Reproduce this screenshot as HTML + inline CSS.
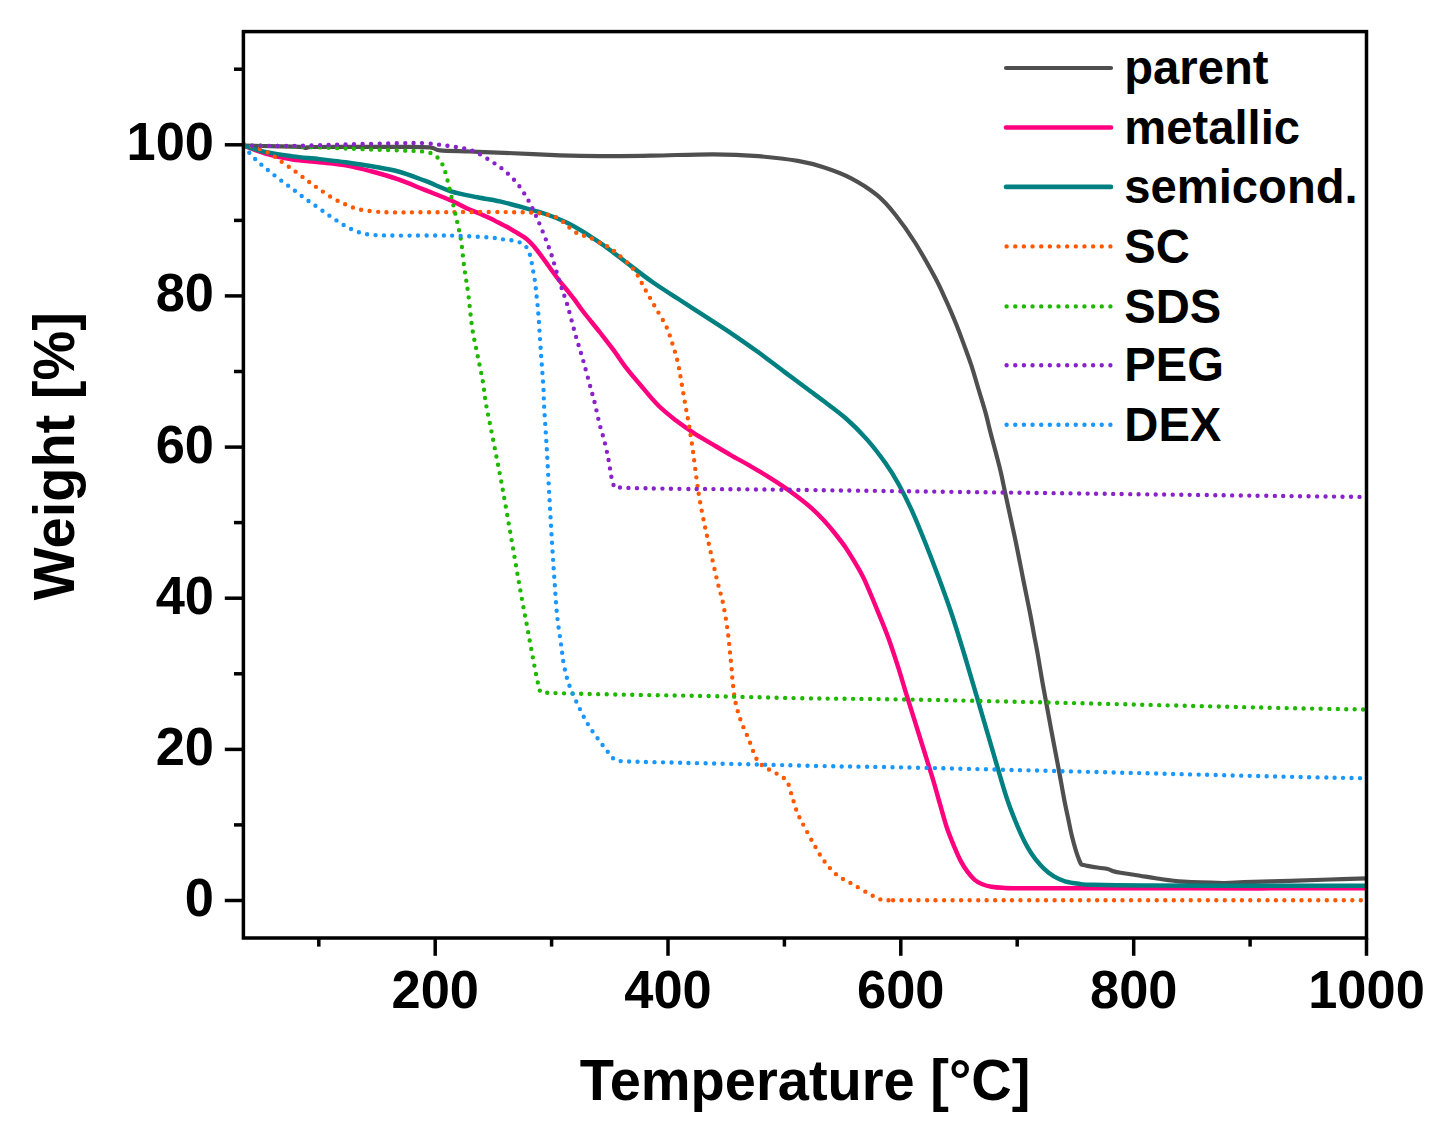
<!DOCTYPE html>
<html lang="en"><head><meta charset="utf-8"><title>TGA curves</title>
<style>html,body{margin:0;padding:0;background:#fff}body{width:1440px;height:1145px;overflow:hidden}svg{display:block}</style>
</head><body>
<svg width="1440" height="1145" viewBox="0 0 1440 1145">
<rect width="1440" height="1145" fill="#fff"/>
<defs><clipPath id="cp"><rect x="243.4" y="31.6" width="1124.6" height="906.4"/></clipPath></defs>
<g clip-path="url(#cp)" fill="none" stroke-linejoin="round">
<path d="M243.6 145.6C248.0 145.7 260.6 146.0 270.0 146.2C279.4 146.4 294.0 146.5 300.0 146.8C306.0 147.1 304.0 148.0 306.0 148.0C308.0 148.0 303.0 147.2 312.0 147.0C321.0 146.8 345.3 146.9 360.0 146.9C374.7 146.9 388.3 146.7 400.0 146.8C411.7 146.9 423.3 146.7 430.0 147.3C436.7 147.9 433.3 149.7 440.0 150.4C446.7 151.1 459.3 151.1 470.0 151.5C480.7 151.9 489.0 152.2 504.0 152.8C519.0 153.4 544.0 154.7 560.0 155.3C576.0 155.9 584.5 156.1 600.0 156.2C615.5 156.2 633.9 155.9 652.8 155.6C671.7 155.3 695.9 154.2 713.5 154.3C731.1 154.4 744.3 155.1 758.4 156.2C772.5 157.3 786.9 159.0 797.9 160.9C808.9 162.8 815.5 164.6 824.3 167.5C833.1 170.4 841.9 173.5 850.7 178.1C859.5 182.7 869.6 189.0 877.1 195.2C884.6 201.3 889.3 207.1 895.6 215.0C901.9 222.9 908.5 232.2 915.0 242.5C921.5 252.8 929.6 267.4 934.8 277.0C940.0 286.6 942.5 292.8 946.0 300.4C949.5 308.0 952.6 315.4 955.5 322.5C958.4 329.6 960.7 335.8 963.3 342.9C965.9 350.0 968.7 357.3 971.2 364.9C973.7 372.5 975.9 380.6 978.3 388.5C980.7 396.4 983.3 404.5 985.4 412.1C987.5 419.7 989.0 426.8 990.9 434.1C992.8 441.4 995.0 449.4 996.7 455.9C998.4 462.4 999.7 467.3 1001.0 473.0C1002.3 478.7 1003.4 484.5 1004.6 490.2C1005.8 495.9 1007.1 501.6 1008.3 507.3C1009.5 513.0 1010.8 518.7 1012.0 524.4C1013.2 530.1 1014.5 535.6 1015.7 541.5C1016.9 547.4 1018.2 553.9 1019.4 560.0C1020.6 566.1 1021.8 572.2 1023.0 578.3C1024.2 584.4 1025.5 590.6 1026.7 596.7C1027.9 602.8 1029.2 608.7 1030.4 615.0C1031.6 621.3 1032.8 628.1 1034.0 634.6C1035.2 641.1 1036.6 647.9 1037.7 654.2C1038.8 660.5 1039.8 666.6 1040.8 672.5C1041.8 678.4 1042.0 679.9 1043.8 689.7C1045.6 699.5 1048.9 717.3 1051.5 731.3C1054.1 745.3 1057.4 762.0 1059.5 773.5C1061.6 785.0 1062.9 792.8 1064.3 800.0C1065.7 807.2 1066.5 810.7 1067.8 816.7C1069.1 822.7 1070.5 830.3 1071.9 836.1C1073.3 841.9 1074.8 847.2 1076.1 851.4C1077.4 855.6 1078.7 858.9 1079.6 861.1C1080.5 863.3 1081.1 864.0 1081.4 864.6C1082.1 864.8 1083.9 865.1 1085.8 865.5C1087.7 865.9 1089.3 866.4 1092.8 866.9C1096.3 867.4 1103.2 868.1 1106.7 868.8C1110.2 869.5 1111.3 870.6 1113.6 871.3C1115.9 871.9 1116.2 872.0 1120.6 872.7C1125.0 873.4 1133.9 874.7 1140.0 875.7C1146.1 876.7 1149.8 877.5 1157.1 878.5C1164.3 879.5 1172.5 881.0 1183.5 881.7C1194.5 882.5 1213.0 882.9 1223.1 883.0C1233.2 883.1 1233.0 882.6 1244.2 882.2C1255.4 881.8 1275.7 881.2 1290.0 880.8C1304.3 880.3 1317.2 879.9 1330.0 879.5C1342.8 879.1 1360.4 878.5 1366.5 878.3" stroke="#4f4f4f" stroke-width="4.2"/>
<path d="M243.6 145.6C247.4 147.0 258.2 151.5 266.4 153.8C274.6 156.1 284.0 158.2 292.8 159.6C301.6 161.0 310.4 161.2 319.2 162.2C328.0 163.2 336.8 163.8 345.6 165.4C354.4 167.0 363.2 169.2 372.0 171.5C380.8 173.8 389.6 176.3 398.4 179.4C407.2 182.5 415.9 186.4 424.7 189.9C433.5 193.4 444.1 197.4 451.1 200.5C458.1 203.6 461.9 206.1 466.7 208.3C471.5 210.5 476.1 212.1 480.0 213.8C483.9 215.5 486.9 216.9 490.0 218.3C493.1 219.8 495.5 221.1 498.3 222.5C501.1 223.9 503.9 225.2 506.7 226.7C509.5 228.2 512.2 230.0 515.0 231.7C517.8 233.4 520.9 235.1 523.3 236.7C525.7 238.3 527.4 239.6 529.2 241.3C531.0 243.0 532.4 244.5 534.2 246.7C536.0 248.8 537.9 251.4 540.0 254.2C542.1 257.0 544.5 260.2 546.7 263.3C548.9 266.4 550.9 269.3 553.3 272.5C555.6 275.7 558.3 279.3 560.8 282.5C563.3 285.7 566.1 288.9 568.3 291.7C570.5 294.5 571.7 295.9 574.2 299.2C576.7 302.5 578.8 305.9 583.1 311.5C587.4 317.1 595.0 326.1 600.0 332.5C605.0 338.9 608.8 343.7 613.2 349.6C617.6 355.5 621.9 362.3 626.4 368.1C630.9 373.9 634.7 378.3 640.0 384.5C645.3 390.7 652.1 399.3 658.1 405.3C664.1 411.3 670.1 415.9 676.1 420.6C682.1 425.3 688.2 429.4 694.2 433.3C700.2 437.2 706.2 440.5 712.2 444.1C718.2 447.7 724.3 451.4 730.3 454.9C736.3 458.4 742.3 461.4 748.3 464.9C754.3 468.4 760.4 471.9 766.4 475.7C772.4 479.4 779.4 483.9 784.5 487.4C789.6 490.9 792.6 493.0 797.1 496.5C801.6 500.0 807.0 504.1 811.5 508.2C816.0 512.2 820.3 516.6 824.2 520.8C828.1 525.0 831.4 529.0 835.0 533.5C838.6 538.0 842.6 543.1 845.9 547.9C849.2 552.7 851.9 557.3 854.9 562.4C857.9 567.5 860.1 570.5 863.9 578.6C867.7 586.7 873.7 601.3 877.7 611.1C881.8 620.9 884.7 627.8 888.2 637.5C891.7 647.2 895.8 659.7 898.8 669.2C901.8 678.7 902.9 683.1 906.4 694.3C909.9 705.5 915.2 722.4 919.6 736.5C924.0 750.6 929.4 767.5 932.8 778.8C936.2 790.1 937.6 796.0 940.0 804.2C942.4 812.4 944.6 820.9 946.9 827.8C949.2 834.7 951.6 840.2 953.9 845.8C956.2 851.3 958.5 856.7 960.8 861.1C963.1 865.5 965.5 869.1 967.8 872.2C970.1 875.3 972.4 877.9 974.7 879.9C977.0 881.9 978.9 882.9 981.7 884.0C984.5 885.1 987.9 886.2 991.4 886.8C994.9 887.4 997.2 887.6 1002.5 887.8C1007.8 888.0 1000.4 888.1 1023.3 888.2C1046.2 888.3 1100.5 888.3 1140.0 888.3C1179.5 888.3 1222.2 888.4 1260.0 888.4C1297.8 888.4 1348.8 888.3 1366.5 888.3" stroke="#ff007f" stroke-width="4.45"/>
<path d="M243.6 145.6C247.4 146.7 258.2 150.4 266.4 152.2C274.6 154.0 284.0 155.2 292.8 156.4C301.6 157.6 310.4 158.1 319.2 159.1C328.0 160.1 336.8 161.0 345.6 162.2C354.4 163.4 363.2 164.6 372.0 166.2C380.8 167.8 389.6 169.1 398.4 171.5C407.2 173.9 415.9 177.4 424.7 180.7C433.5 184.0 442.3 188.5 451.1 191.3C459.9 194.1 468.7 195.5 477.5 197.3C486.3 199.1 495.1 200.2 503.9 202.3C512.7 204.4 522.9 207.5 530.3 209.6C537.7 211.7 542.5 213.0 548.3 215.0C554.1 217.0 559.4 219.1 565.0 221.7C570.6 224.3 576.2 227.5 581.7 230.8C587.2 234.1 593.6 238.5 598.3 241.7C603.0 244.9 605.3 246.5 610.0 250.0C614.7 253.5 619.3 257.1 626.4 262.5C633.5 267.9 644.0 276.1 652.8 282.3C661.6 288.5 670.4 293.8 679.2 299.5C688.0 305.2 696.8 310.9 705.6 316.6C714.4 322.3 723.2 327.9 732.0 333.8C740.8 339.8 749.6 345.9 758.4 352.3C767.2 358.7 775.9 365.5 784.7 372.1C793.5 378.7 804.9 387.2 811.1 391.8C817.4 396.4 816.4 395.6 822.2 400.0C828.0 404.4 838.5 411.9 846.0 418.5C853.5 425.1 860.5 432.1 867.1 439.6C873.7 447.1 880.3 455.8 885.6 463.3C890.9 470.8 894.4 476.6 898.8 484.5C903.2 492.4 907.6 501.1 912.0 510.8C916.4 520.5 920.8 531.5 925.2 542.5C929.6 553.5 934.0 564.9 938.4 576.8C942.8 588.7 947.2 600.6 951.6 613.8C956.0 627.0 960.4 641.7 964.8 656.0C969.1 670.3 973.2 684.4 977.7 699.6C982.2 714.8 987.6 733.5 991.6 747.1C995.6 760.7 999.0 772.6 1001.6 781.4C1004.2 790.2 1005.4 794.1 1007.4 800.0C1009.4 805.9 1011.4 811.2 1013.6 816.7C1015.8 822.2 1018.3 828.2 1020.6 833.3C1022.9 838.4 1025.0 842.8 1027.5 847.2C1030.0 851.6 1033.0 856.1 1035.8 859.7C1038.6 863.3 1041.2 866.0 1044.2 868.8C1047.2 871.6 1050.4 874.3 1053.9 876.4C1057.4 878.5 1060.8 880.1 1065.0 881.3C1069.2 882.5 1074.3 883.2 1078.9 883.8C1083.5 884.4 1082.0 884.5 1092.8 884.8C1103.6 885.1 1116.0 885.4 1143.9 885.5C1171.8 885.6 1222.9 885.7 1260.0 885.7C1297.1 885.7 1348.8 885.7 1366.5 885.7" stroke="#008080" stroke-width="4.45"/>
<path d="M243.6 143.8C247.4 145.1 260.0 148.6 266.4 151.7C272.8 154.8 277.4 158.9 282.2 162.2C287.0 165.5 291.0 168.3 295.4 171.5C299.8 174.7 304.6 178.6 308.6 181.5C312.6 184.4 315.2 186.4 319.2 189.1C323.2 191.8 328.0 195.3 332.4 197.9C336.8 200.5 341.2 202.6 345.6 204.5C350.0 206.4 353.5 208.0 358.8 209.2C364.1 210.4 370.6 211.3 377.2 211.8C383.8 212.3 386.1 212.4 398.4 212.4C410.7 212.4 433.5 212.2 451.1 212.1C468.7 212.0 490.5 212.0 503.9 212.1C517.3 212.2 525.7 212.3 531.7 212.5C537.7 212.7 537.4 213.0 540.0 213.3C542.6 213.7 545.1 214.1 547.5 214.6C549.9 215.1 552.1 215.4 554.2 216.3C556.4 217.2 558.4 218.6 560.4 220.0C562.4 221.4 564.3 222.9 566.3 224.6C568.2 226.3 570.0 228.4 572.1 230.0C574.2 231.6 576.6 233.0 578.8 234.0C581.0 235.0 583.1 235.4 585.4 236.2C587.7 237.0 589.8 237.5 592.5 238.8C595.2 240.1 599.1 242.4 601.7 243.8C604.3 245.2 605.5 245.3 608.3 247.1C611.1 248.9 614.2 250.7 618.5 254.6C622.8 258.5 629.9 264.7 634.3 270.4C638.7 276.1 641.4 282.7 644.9 288.9C648.4 295.1 651.9 301.2 655.4 307.4C658.9 313.6 663.1 319.8 666.0 325.9C668.9 332.0 670.6 338.1 672.6 344.3C674.6 350.5 676.5 356.6 677.9 362.8C679.3 369.0 680.1 374.4 681.3 381.3C682.5 388.2 683.9 396.5 685.2 404.0C686.5 411.5 687.9 418.3 689.2 426.4C690.5 434.5 692.0 444.0 693.2 452.8C694.4 461.6 695.5 471.3 696.6 479.2C697.7 487.1 698.4 492.4 699.8 500.3C701.2 508.2 703.2 518.4 705.0 526.7C706.8 535.1 708.3 541.6 710.3 550.4C712.3 559.2 714.8 570.7 716.9 579.5C719.0 588.3 721.2 594.9 723.0 603.2C724.8 611.6 726.3 621.2 727.5 629.6C728.7 638.0 729.4 647.0 730.1 653.4C730.8 659.8 731.0 662.9 731.5 668.0C732.0 673.1 732.2 678.1 732.9 683.8C733.6 689.5 734.2 696.1 735.5 702.2C736.8 708.4 738.6 714.5 740.8 720.7C743.0 726.9 746.1 732.8 748.7 739.2C751.3 745.6 754.0 754.4 756.6 759.0C759.2 763.6 761.2 764.5 764.5 766.9C767.8 769.3 772.6 771.1 776.4 773.5C780.1 775.9 784.4 777.4 787.0 781.4C789.6 785.4 790.5 791.9 792.3 797.2C794.0 802.5 795.5 808.2 797.5 813.1C799.5 818.0 801.5 821.2 804.1 826.3C806.8 831.3 810.1 837.7 813.4 843.4C816.7 849.1 819.9 855.3 823.9 860.6C827.9 865.9 832.2 871.2 837.1 875.1C842.0 879.0 847.7 881.2 853.0 884.3C858.3 887.4 864.4 891.2 868.8 893.6C873.2 896.0 876.2 897.8 879.3 898.9C882.4 900.0 877.2 900.0 887.3 900.2C897.4 900.4 860.1 900.2 940.0 900.2C1019.9 900.2 1295.4 900.2 1366.5 900.2" stroke="#ff5800" stroke-width="4.4" stroke-linecap="round" stroke-dasharray="0 8.5"/>
<path d="M243.6 145.6C251.8 145.7 275.8 145.9 292.8 146.4C309.8 146.9 328.0 147.8 345.6 148.5C363.2 149.2 385.2 149.9 398.4 150.4C411.6 150.9 418.5 150.8 424.7 151.7C430.9 152.6 432.4 153.6 435.3 155.6C438.2 157.6 440.1 160.4 441.9 163.5C443.7 166.6 444.6 169.7 445.9 174.1C447.2 178.5 448.5 184.4 449.8 189.9C451.1 195.4 452.5 201.4 453.8 207.1C455.1 212.8 456.5 218.5 457.7 224.2C458.9 229.9 460.1 234.1 461.2 241.4C462.3 248.7 463.1 259.0 464.3 267.8C465.5 276.6 467.0 284.1 468.3 294.2C469.6 304.3 470.8 318.4 472.3 328.5C473.8 338.6 475.8 346.1 477.5 354.9C479.2 363.7 481.4 373.1 482.8 381.3C484.2 389.5 484.4 394.7 486.0 404.0C487.6 413.3 490.0 423.6 492.6 437.0C495.2 450.4 498.7 467.8 501.8 484.5C504.9 501.2 508.0 519.6 511.1 537.2C514.2 554.8 517.4 574.1 520.3 590.0C523.1 605.9 525.6 618.2 528.2 632.3C530.8 646.4 534.1 664.6 536.1 674.5C538.1 684.4 539.4 688.8 540.1 691.6C542.1 691.8 536.8 692.5 552.0 693.0C567.2 693.5 604.7 694.3 631.1 694.8C657.5 695.3 682.1 695.5 710.3 696.1C738.4 696.7 761.7 697.5 800.0 698.2C838.3 698.9 863.3 698.6 940.0 700.1C1016.7 701.6 1188.9 705.9 1260.0 707.5C1331.1 709.1 1348.8 709.2 1366.5 709.5" stroke="#1fb800" stroke-width="4.4" stroke-linecap="round" stroke-dasharray="0 8.5"/>
<path d="M243.6 145.6C251.8 145.7 275.8 146.1 292.8 145.9C309.8 145.7 328.0 144.9 345.6 144.5C363.2 144.1 385.2 143.4 398.4 143.2C411.6 143.0 416.8 142.8 424.7 143.2C432.6 143.6 439.3 144.7 445.9 145.6C452.5 146.5 459.0 147.3 464.3 148.5C469.6 149.7 473.1 150.9 477.5 153.0C481.9 155.1 486.3 158.1 490.7 160.9C495.1 163.8 499.5 166.4 503.9 170.1C508.3 173.8 513.1 178.5 517.1 183.3C521.1 188.2 524.6 193.9 527.7 199.2C530.8 204.5 533.0 209.3 535.6 215.0C538.2 220.7 540.9 226.9 543.5 233.5C546.1 240.1 548.8 246.7 551.4 254.6C554.0 262.5 556.6 272.6 559.3 281.0C561.9 289.4 564.6 295.9 567.3 304.7C569.9 313.5 572.6 324.6 575.2 333.8C577.8 343.1 580.5 351.0 583.1 360.2C585.7 369.4 589.0 381.9 591.0 389.2C593.0 396.5 593.6 398.2 595.0 404.0C596.4 409.8 597.9 417.4 599.5 423.8C601.1 430.2 603.2 436.1 604.7 442.2C606.2 448.3 607.6 455.0 608.7 460.7C609.8 466.4 610.5 472.4 611.3 476.5C612.1 480.6 613.1 483.6 613.5 485.0C614.7 485.4 608.9 487.0 620.6 487.6C632.3 488.2 657.3 488.5 683.9 488.9C710.5 489.2 700.6 488.8 780.0 489.7C859.4 490.6 1062.2 493.3 1160.0 494.5C1257.8 495.7 1332.1 496.6 1366.5 497.0" stroke="#8a22cc" stroke-width="4.4" stroke-linecap="round" stroke-dasharray="0 8.5"/>
<path d="M243.6 146.4C245.6 148.6 252.0 155.9 255.8 159.6C259.6 163.3 262.4 165.5 266.4 168.8C270.4 172.1 275.2 176.0 279.6 179.4C284.0 182.8 288.4 185.8 292.8 189.1C297.2 192.4 301.6 196.0 306.0 199.2C310.4 202.4 314.8 205.3 319.2 208.4C323.6 211.5 328.0 214.8 332.4 217.7C336.8 220.6 341.2 223.7 345.6 226.1C350.0 228.5 354.4 230.8 358.8 232.2C363.2 233.6 365.4 234.2 372.0 234.8C378.6 235.4 385.2 235.5 398.4 235.6C411.6 235.7 435.7 235.3 451.1 235.6C466.5 235.9 482.1 237.0 490.7 237.6C499.3 238.2 499.3 238.9 502.5 239.3C505.7 239.7 507.6 239.6 510.0 240.0C512.4 240.4 514.5 241.1 516.7 241.7C518.9 242.3 521.4 242.4 523.3 243.8C525.2 245.2 527.0 247.8 528.3 250.4C529.6 253.0 530.3 256.3 531.0 259.2C531.7 262.1 532.0 264.6 532.5 267.5C533.0 270.4 533.7 273.4 534.2 276.3C534.7 279.2 535.0 282.1 535.4 285.0C535.8 287.9 535.8 289.3 536.3 293.8C536.8 298.3 537.4 302.2 538.2 312.0C539.0 321.8 540.0 339.4 540.9 352.3C541.8 365.2 543.0 380.6 543.5 389.2C544.0 397.8 543.5 394.3 544.0 404.0C544.5 413.7 545.8 432.3 546.7 447.5C547.6 462.7 548.4 479.2 549.3 495.0C550.2 510.8 551.1 528.0 552.0 542.5C552.9 557.0 553.7 569.8 554.6 582.1C555.5 594.4 556.1 605.9 557.2 616.4C558.3 626.9 560.1 637.2 561.2 645.4C562.3 653.5 562.7 658.7 564.0 665.3C565.3 671.9 566.8 678.3 569.2 685.1C571.6 691.9 575.2 699.4 578.5 706.2C581.8 713.0 585.0 719.6 589.0 726.0C593.0 732.4 598.2 739.1 602.2 744.5C606.2 749.9 611.0 755.9 612.8 758.2C614.1 758.7 611.9 760.4 620.7 761.1C629.5 761.8 644.9 761.9 665.6 762.4C686.3 762.9 718.3 763.6 744.7 764.2C771.1 764.8 791.4 765.4 823.9 766.1C856.4 766.8 867.3 766.5 940.0 768.2C1012.7 769.9 1188.9 774.4 1260.0 776.1C1331.1 777.8 1348.8 777.9 1366.5 778.3" stroke="#1a96ff" stroke-width="4.4" stroke-linecap="round" stroke-dasharray="0 8.5"/>
</g>
<g stroke="#000" stroke-width="3.5" fill="none" stroke-linecap="butt">
<rect x="243.4" y="31.6" width="1123.1" height="906.4"/>
<line x1="224.8" y1="900.5" x2="243.4" y2="900.5"/>
<line x1="224.8" y1="749.4" x2="243.4" y2="749.4"/>
<line x1="224.8" y1="598.2" x2="243.4" y2="598.2"/>
<line x1="224.8" y1="447.1" x2="243.4" y2="447.1"/>
<line x1="224.8" y1="295.9" x2="243.4" y2="295.9"/>
<line x1="224.8" y1="144.8" x2="243.4" y2="144.8"/>
<line x1="234.0" y1="824.9" x2="243.4" y2="824.9"/>
<line x1="234.0" y1="673.8" x2="243.4" y2="673.8"/>
<line x1="234.0" y1="522.6" x2="243.4" y2="522.6"/>
<line x1="234.0" y1="371.5" x2="243.4" y2="371.5"/>
<line x1="234.0" y1="220.4" x2="243.4" y2="220.4"/>
<line x1="234.0" y1="69.2" x2="243.4" y2="69.2"/>
<line x1="435.2" y1="938.0" x2="435.2" y2="955.8"/>
<line x1="668.0" y1="938.0" x2="668.0" y2="955.8"/>
<line x1="900.8" y1="938.0" x2="900.8" y2="955.8"/>
<line x1="1133.7" y1="938.0" x2="1133.7" y2="955.8"/>
<line x1="1366.5" y1="938.0" x2="1366.5" y2="955.8"/>
<line x1="318.8" y1="938.0" x2="318.8" y2="946.6"/>
<line x1="551.6" y1="938.0" x2="551.6" y2="946.6"/>
<line x1="784.4" y1="938.0" x2="784.4" y2="946.6"/>
<line x1="1017.2" y1="938.0" x2="1017.2" y2="946.6"/>
<line x1="1250.1" y1="938.0" x2="1250.1" y2="946.6"/>
</g>
<g font-family="'Liberation Sans', Arial, sans-serif" font-weight="bold" fill="#000">
<g font-size="52.4" text-anchor="end">
<text transform="translate(214.0 915.9) scale(1 1.040)">0</text>
<text transform="translate(214.0 764.8) scale(1 1.040)">20</text>
<text transform="translate(214.0 613.6) scale(1 1.040)">40</text>
<text transform="translate(214.0 462.5) scale(1 1.040)">60</text>
<text transform="translate(214.0 311.3) scale(1 1.040)">80</text>
<text transform="translate(214.0 160.2) scale(1 1.040)">100</text>
</g>
<g font-size="52.4" text-anchor="middle">
<text transform="translate(435.2 1008.2) scale(1 1.040)">200</text>
<text transform="translate(668.0 1008.2) scale(1 1.040)">400</text>
<text transform="translate(900.8 1008.2) scale(1 1.040)">600</text>
<text transform="translate(1133.7 1008.2) scale(1 1.040)">800</text>
<text transform="translate(1366.5 1008.2) scale(1 1.040)">1000</text>
</g>
<text transform="translate(805.0 1099.9) scale(1 1.040)" font-size="56" text-anchor="middle">Temperature [°C]</text>
<text transform="translate(73.6 456.2) rotate(-90) scale(1 1.040)" font-size="56" text-anchor="middle">Weight [%]</text>
<g font-size="47.2">
<line x1="1006" y1="68.0" x2="1111" y2="68.0" stroke="#4f4f4f" stroke-width="4.2" stroke-linecap="round"/>
<text transform="translate(1124.3 84.2) scale(1 1.000)">parent</text>
<line x1="1006" y1="127.5" x2="1111" y2="127.5" stroke="#ff007f" stroke-width="4.6" stroke-linecap="round"/>
<text transform="translate(1124.3 143.7) scale(1 1.000)">metallic</text>
<line x1="1006" y1="186.9" x2="1111" y2="186.9" stroke="#008080" stroke-width="4.6" stroke-linecap="round"/>
<text transform="translate(1124.3 203.1) scale(1 1.000)">semicond.</text>
<line x1="1006.6" y1="246.4" x2="1111" y2="246.4" stroke="#ff5800" stroke-width="4.4" stroke-linecap="round" stroke-dasharray="0 8.65"/>
<text transform="translate(1124.3 262.6) scale(1 1.000)">SC</text>
<line x1="1006.6" y1="306.4" x2="1111" y2="306.4" stroke="#1fb800" stroke-width="4.4" stroke-linecap="round" stroke-dasharray="0 8.65"/>
<text transform="translate(1124.3 322.6) scale(1 1.000)">SDS</text>
<line x1="1006.6" y1="365.2" x2="1111" y2="365.2" stroke="#8a22cc" stroke-width="4.4" stroke-linecap="round" stroke-dasharray="0 8.65"/>
<text transform="translate(1124.3 381.4) scale(1 1.000)">PEG</text>
<line x1="1006.6" y1="424.7" x2="1111" y2="424.7" stroke="#1a96ff" stroke-width="4.4" stroke-linecap="round" stroke-dasharray="0 8.65"/>
<text transform="translate(1124.3 440.9) scale(1 1.000)">DEX</text>
</g>
</g>
</svg>
</body></html>
